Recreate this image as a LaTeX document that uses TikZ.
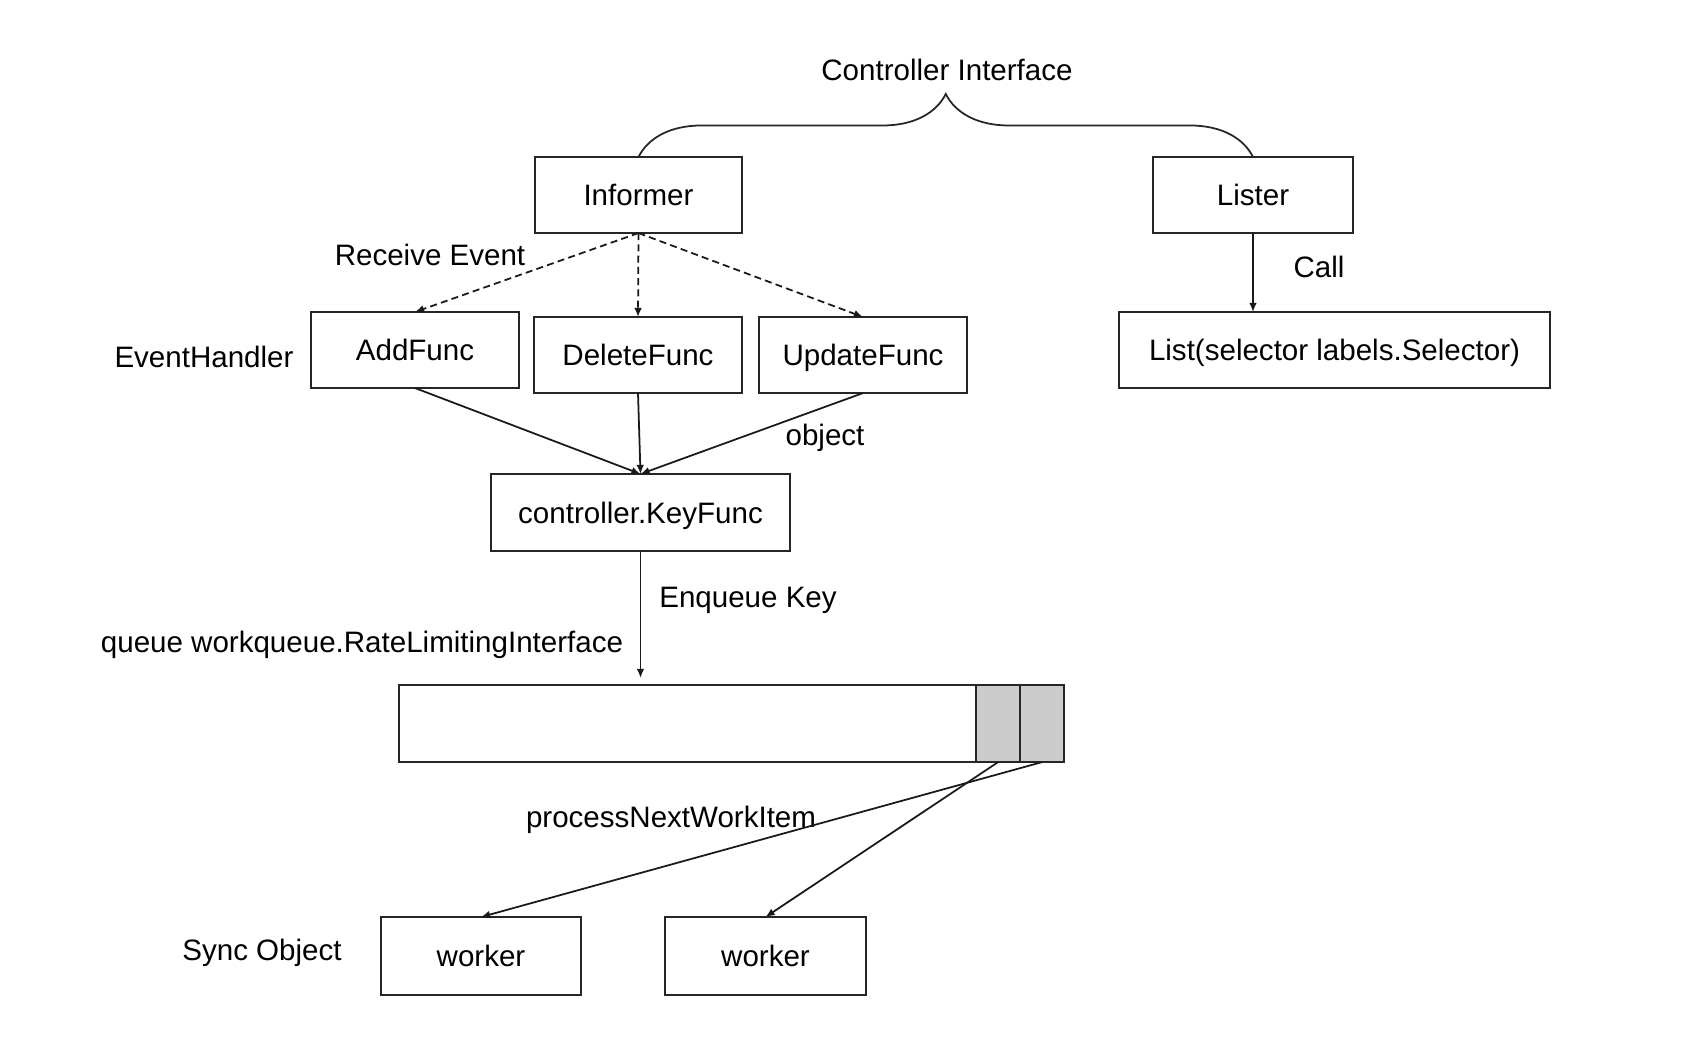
\documentclass[tikz,border=0pt]{standalone}
\usepackage{fontspec}
\setmainfont{Liberation Sans}
\usetikzlibrary{arrows.meta,decorations.pathreplacing}

\begin{document}
\begin{tikzpicture}[x=0.01cm, y=-0.01cm,
    every node/.style={font=\fontsize{8.4}{10}\selectfont, text height=6pt, text depth=0pt},
    box/.style={draw=black!85, line width=0.5pt, inner sep=0pt, outer sep=0pt, minimum height=0.76cm},
    item/.style={box, fill=black!20, minimum width=0.44cm, minimum height=0.77cm, anchor=west},
    arr/.style={draw=black!90, line width=0.5pt, -{Latex[length=2.6pt,width=2.2pt]}},
    dsh/.style={arr, dash pattern=on 2pt off 1.2pt}]
        \useasboundingbox (0,0) rectangle (1704,1050);

        \node[box, minimum width=2.07cm] (informer) at (638.5,195) {Informer};
        \node[box, minimum width=2cm] (lister) at (1253,195) {Lister};
        \node[box, minimum width=2.08cm] (addfunc) at (415,350) {AddFunc};
        \node[box, minimum width=2.08cm] (deletefunc) at (638,355) {DeleteFunc};
        \node[box, minimum width=2.08cm] (updatefunc) at (863,355) {UpdateFunc};
        \node[box, minimum width=4.31cm] (listfunc) at (1334.5,350) {List(selector labels.Selector)};
        \node[box, minimum width=2.99cm, minimum height=0.77cm] (keyfunc) at (640.5,512.5) {controller.KeyFunc};
        \node[box, minimum width=5.77cm, minimum height=0.77cm] (queue) at (687.5,723.5) {};
        \node[item] (item1) at (queue.east) {};
        \node[item] (item2) at (item1.east) {};
        \node[box, minimum width=2cm, minimum height=0.78cm] (worker1) at (481,956) {worker};
        \node[box, minimum width=2.01cm, minimum height=0.78cm] (worker2) at (765.5,956) {worker};

        \node (ctrlif) at (947,70) {Controller Interface};
        \node (receive) at (430,255) {Receive Event};
        \node (handler) at (204,357) {EventHandler};
        \node (call) at (1319,267) {Call};
        \node (object) at (825,435) {object};
        \node (enqueue) at (748,597) {Enqueue Key};
        \node (queuename) at (362,642) {queue workqueue.RateLimitingInterface};
        \node (process) at (671,817) {processNextWorkItem};
        \node (sync) at (262,950) {Sync Object};

        \draw[draw=black!85, line width=0.5pt, decorate, decoration={brace, amplitude=0.63cm}] (informer.north) -- (lister.north);

        \foreach \f in {addfunc, deletefunc, updatefunc}{
          \draw[dsh] (informer.south) -- (\f.north);
          \draw[arr] (\f.south) -- (keyfunc.north);}
        \draw[arr] (lister.south) -- (lister.south |- listfunc.north);
        \draw[arr, shorten >=0.07cm] (keyfunc.south) -- (keyfunc.south |- queue.north);
        \draw[arr] (item1.south) -- (worker2.north);
        \draw[arr] (item2.south) -- (worker1.north);
      \end{tikzpicture}
\end{document}
